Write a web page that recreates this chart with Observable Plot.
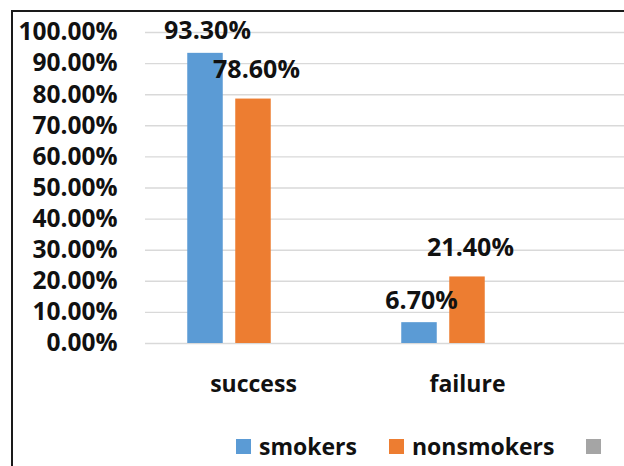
<!DOCTYPE html>
<html>
<head>
<meta charset="utf-8">
<script src="https://cdn.jsdelivr.net/npm/d3@7"></script>
<script src="https://cdn.jsdelivr.net/npm/@observablehq/plot@0.6"></script>
<style>
  html, body { margin: 0; padding: 0; background: #fff; overflow: hidden; }
  body { width: 624px; height: 466px; position: relative; font-family: "Open Sans", Lato, sans-serif; }
  #frame {
    position: absolute; left: 11px; top: 10px; width: 700px; height: 520px;
    border: 2px solid #1a1a1a; box-sizing: border-box;
  }
  #chart { position: absolute; left: 0; top: 0; }
  #legend {
    position: absolute; left: 236px; top: 430px; display: flex; align-items: center;
    font-weight: 700; font-size: 23px; color: #111; white-space: nowrap;
  }
  .item { display: flex; align-items: center; margin-right: 32px; }
  .swatch { width: 15px; height: 15px; margin-right: 8px; }
</style>
</head>
<body>
<div id="frame"></div>
<div id="chart"></div>
<div id="legend"></div>
<script>
// Outcome shares by group, in percent
const categories = ["success", "failure"];
const seriesNames = ["smokers", "nonsmokers", ""];
const smokers = [93.3, 6.7];
const nonsmokers = [78.6, 21.4];
const seriesColors = ["#5B9BD5", "#ED7D31", "#A5A5A5"];
const yTicks = [0, 10, 20, 30, 40, 50, 60, 70, 80, 90, 100];

const rows = (values, s) => categories.map((c, i) => ({category: c, series: s, value: values[i]}));
const smokerRows = rows(smokers, seriesNames[0]);
const nonsmokerRows = rows(nonsmokers, seriesNames[1]);

// Clustered layout: three bar slots per category, the third series is empty
const plotLeft = 145, bandWidth = 214.5;
const barW = 36, barGap = 12;
const groupLeft = (bandWidth - (3 * barW + 2 * barGap)) / 2;
const slot = i => {
  const left = groupLeft + i * (barW + barGap);
  return {insetLeft: left, insetRight: bandWidth - left - barW};
};
const slotOffset = i => (i - 1) * (barW + barGap);
const pct = v => v.toFixed(2) + "%";

const chart = Plot.plot({
  width: 624,
  height: 410,
  marginLeft: plotLeft,
  marginRight: 0,
  marginTop: 32,
  marginBottom: 67,
  style: {fontFamily: "'Open Sans', Lato, sans-serif", fontWeight: 700, fontSize: "23px", color: "#111", background: "transparent"},
  x: {domain: categories, range: [plotLeft, plotLeft + bandWidth * categories.length], padding: 0},
  y: {domain: [0, 100]},
  marks: [
    Plot.ruleY(yTicks, {stroke: "#d9d9d9", strokeWidth: 1.4}),
    Plot.barY(smokerRows, {x: "category", y: "value", fill: seriesColors[0], ...slot(0)}),
    Plot.barY(nonsmokerRows, {x: "category", y: "value", fill: seriesColors[1], ...slot(1)}),
    Plot.text(smokerRows, {x: "category", y: "value", text: d => pct(d.value), dx: slotOffset(0) + 2, dy: -22, fill: "#111", fontSize: 25}),
    Plot.text(nonsmokerRows, {x: "category", y: "value", text: d => pct(d.value), dx: slotOffset(1) + 3, dy: -29, fill: "#111", fontSize: 25}),
    Plot.axisY(yTicks, {tickSize: 0, tickPadding: 28, tickFormat: pct, label: null, fontSize: 24.5}),
    Plot.axisX({tickSize: 0, tickPadding: 32, label: null})
  ]
});
document.getElementById("chart").append(chart);

// Legend below the plot
const legend = document.getElementById("legend");
seriesNames.forEach((name, i) => {
  const item = document.createElement("div");
  item.className = "item";
  const sw = document.createElement("span");
  sw.className = "swatch";
  sw.style.background = seriesColors[i];
  item.append(sw);
  if (name) {
    const t = document.createElement("span");
    t.textContent = name;
    item.append(t);
  }
  legend.append(item);
});
</script>
</body>
</html>
